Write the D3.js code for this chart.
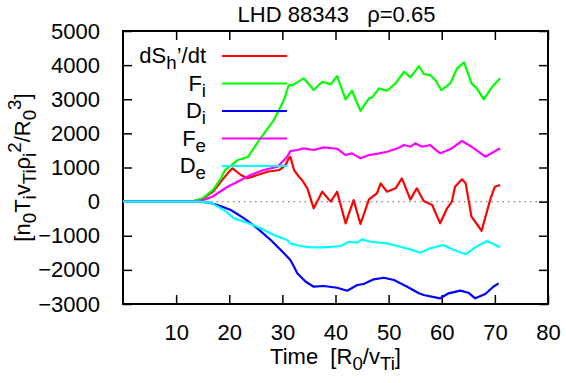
<!DOCTYPE html>
<html>
<head>
<meta charset="utf-8">
<script src="https://cdn.jsdelivr.net/npm/d3@7"></script>
<style>
  body { margin: 0; background: #fff; }
  svg text { font-family: 'Liberation Sans', Arial, sans-serif; fill: #000; }
</style>
</head>
<body>
<div id="chart"></div>
<script>
// values: [time, value]
const dSdt = [[0,0],[13,0],[15,80],[17,300],[18.5,600],[19.7,829],[20.6,976],[22.2,780],[23.4,683],[25.3,780],[27.2,876],[29.4,926],[30.6,1072],[31.2,1269],[31.5,1316],[32.2,926],[33.1,730],[33.7,633],[34.7,390],[35.9,-196],[37.5,290],[39.1,0],[40.3,290],[41.9,-636],[43.4,47],[44.7,-656],[46.3,67],[47.8,243],[48.5,536],[49.7,290],[51.3,390],[52.5,683],[54.1,60],[55.3,390],[56.6,18],[58.2,-100],[59.7,-636],[61,-196],[61.9,0],[62.5,437],[63.8,653],[64.5,536],[65.6,-442],[67.5,-853],[69.2,97],[70,437],[71,486]];
const Fi = [[0,0],[13,0],[15,100],[17,350],[18.5,700],[19.2,926],[21.6,1219],[23.5,1307],[25.9,1863],[28.4,2390],[30.3,2977],[31.2,3416],[31.9,3416],[32.5,3466],[34,3613],[35.9,3270],[37.5,3513],[39.1,3437],[40.3,3680],[41.9,2997],[43.1,3249],[44.7,2663],[46.3,3027],[46.9,3056],[48.2,3320],[49.7,3249],[51.3,3466],[52.9,3806],[54.1,3642],[55.7,3973],[56.6,3739],[57.8,3709],[58.8,3563],[59.9,3270],[61.6,3466],[62.9,3906],[64.2,4081],[65.6,3466],[66.6,3320],[67.9,2997],[69.5,3366],[71,3613]];
const Di = [[0,0],[14,0],[15.9,-20],[17.8,-100],[20.3,-246],[22.8,-490],[25.3,-783],[27.8,-1125],[30.3,-1515],[31.5,-1711],[32.2,-1907],[32.8,-2101],[34.4,-2347],[35.9,-2493],[37.8,-2473],[40.3,-2523],[42.2,-2610],[44.1,-2444],[45.3,-2414],[47.2,-2277],[49.1,-2230],[51,-2297],[53.5,-2493],[55.7,-2687],[56.6,-2737],[59.7,-2833],[61.3,-2687],[63.5,-2610],[65,-2669],[66.3,-2833],[68.2,-2707],[69.7,-2493],[70.7,-2394]];
const Fe = [[0,0],[13,0],[15,40],[16.8,144],[19.7,437],[22.2,633],[24,780],[26.5,926],[29.1,1023],[30.9,1316],[31.5,1480],[32.8,1512],[34,1562],[35.9,1512],[37.8,1591],[40.3,1550],[41.9,1365],[43.1,1415],[44.7,1269],[46.3,1365],[48.2,1415],[49.7,1462],[51.7,1562],[52.9,1658],[54.1,1609],[55,1708],[56.3,1609],[57.8,1658],[59.7,1415],[61.6,1532],[63.8,1776],[65.6,1609],[68.2,1316],[71,1562]];
const De = [[0,0],[14,0],[16.5,-30],[19,-246],[20.9,-490],[23.4,-617],[25.9,-783],[28.4,-979],[30.9,-1125],[31.5,-1222],[33.4,-1301],[35.3,-1340],[37.8,-1340],[41,-1301],[42.5,-1175],[44.1,-1204],[45,-1105],[46.6,-1175],[49.7,-1222],[52.2,-1321],[54.1,-1400],[56,-1497],[57.8,-1368],[60.3,-1272],[62.3,-1418],[64.5,-1544],[66.3,-1340],[68.5,-1154],[71,-1340]];

const xTicks = [10, 20, 30, 40, 50, 60, 70, 80];
const yTicks = [-3000, -2000, -1000, 0, 1000, 2000, 3000, 4000, 5000];

const series = [
  { name: 'dS', data: dSdt, color: '#ff0000' },
  { name: 'Fi', data: Fi, color: '#00ff00' },
  { name: 'Di', data: Di, color: '#0000ff' },
  { name: 'Fe', data: Fe, color: '#ff00ff' },
  { name: 'De', data: De, color: '#00ffff' }
];

const W = 566, H = 383;
const margin = { top: 31, right: 18, bottom: 79, left: 123 };
const width = W - margin.left - margin.right;
const height = H - margin.top - margin.bottom;

const svg = d3.select('#chart').append('svg')
  .attr('width', W).attr('height', H);
const g = svg.append('g')
  .attr('transform', `translate(${margin.left},${margin.top})`);

const x = d3.scaleLinear().domain([0, 80]).range([0, width]);
const y = d3.scaleLinear().domain([-3000, 5000]).range([height, 0]);

const fs = 22;
const tl = 9;

// zero line
g.append('line')
  .attr('x1', 0).attr('x2', width)
  .attr('y1', y(0)).attr('y2', y(0))
  .attr('stroke', '#888').attr('stroke-width', 1.2)
  .attr('stroke-dasharray', '1.5,4');

// axes (ticks inward, mirrored)
const axB = g.append('g').attr('transform', `translate(0,${height})`)
  .call(d3.axisBottom(x).tickValues(xTicks).tickSize(-tl).tickPadding(tl + 11).tickFormat(d3.format('d')));
const axT = g.append('g')
  .call(d3.axisTop(x).tickValues(xTicks).tickSize(-tl).tickFormat(''));
const axL = g.append('g')
  .call(d3.axisLeft(y).tickValues(yTicks).tickSize(-tl).tickPadding(tl + 14).tickFormat(d3.format('d')));
const axR = g.append('g').attr('transform', `translate(${width},0)`)
  .call(d3.axisRight(y).tickValues(yTicks).tickSize(-tl).tickFormat(''));
[axB, axT, axL, axR].forEach(a => {
  a.selectAll('.domain').remove();
  a.selectAll('line').attr('stroke', '#000').attr('stroke-width', 1.5);
  a.selectAll('text').style('font-size', fs + 'px').attr('fill', '#000');
});

g.append('rect').attr('width', width).attr('height', height)
  .attr('fill', 'none').attr('stroke', '#000').attr('stroke-width', 2);

// lines
const line = d3.line().x(d => x(d[0])).y(d => y(d[1]));
series.forEach(s => {
  g.append('path').datum(s.data)
    .attr('fill', 'none').attr('stroke', s.color)
    .attr('stroke-width', 2.2).attr('stroke-linejoin', 'round')
    .attr('d', line);
});

// legend
const legendLabels = [
  [['dS', 0], ['h', 1], ['\u2019/dt', 0]],
  [['F', 0], ['i', 1]],
  [['D', 0], ['i', 1]],
  [['F', 0], ['e', 1]],
  [['D', 0], ['e', 1]]
];
function richText(sel, parts, size) {
  parts.forEach(([t, sh]) => {
    const ts = sel.append('tspan').text(t);
    if (sh === 1) ts.attr('baseline-shift', '-30%').style('font-size', (size * 0.85) + 'px');
    else if (sh === -1) ts.attr('baseline-shift', '45%').style('font-size', (size * 0.85) + 'px');
    else ts.style('font-size', size + 'px');
  });
}
series.forEach((s, i) => {
  const ly = 56 + i * 27.5;
  const t = svg.append('text').attr('x', 206).attr('y', ly + 7)
    .attr('text-anchor', 'end');
  richText(t, legendLabels[i], fs);
  svg.append('line').attr('x1', 222).attr('x2', 287)
    .attr('y1', ly).attr('y2', ly)
    .attr('stroke', s.color).attr('stroke-width', 2.2);
});

// title
svg.append('text').attr('x', margin.left + width / 2 + 1).attr('y', 22)
  .attr('text-anchor', 'middle').style('font-size', fs + 'px')
  .attr('xml:space', 'preserve')
  .text('LHD 88343   \u03c1=0.65');

// x label
const xl = svg.append('text').attr('x', margin.left + width / 2).attr('y', 364)
  .attr('text-anchor', 'middle').attr('xml:space', 'preserve');
richText(xl, [['Time  [R', 0], ['0', 1], ['/v', 0], ['Ti', 1], [']', 0]], fs);

// y label
const yl = svg.append('text')
  .attr('transform', `translate(30,${margin.top + height / 2}) rotate(-90)`)
  .attr('text-anchor', 'middle');
richText(yl, [['[n', 0], ['0', 1], ['T', 0], ['i', 1], ['v', 0], ['Ti', 1], ['\u03c1', 0], ['i', 1], ['2', -1], ['/R', 0], ['0', 1], ['3', -1], [']', 0]], fs);
</script>
</body>
</html>
